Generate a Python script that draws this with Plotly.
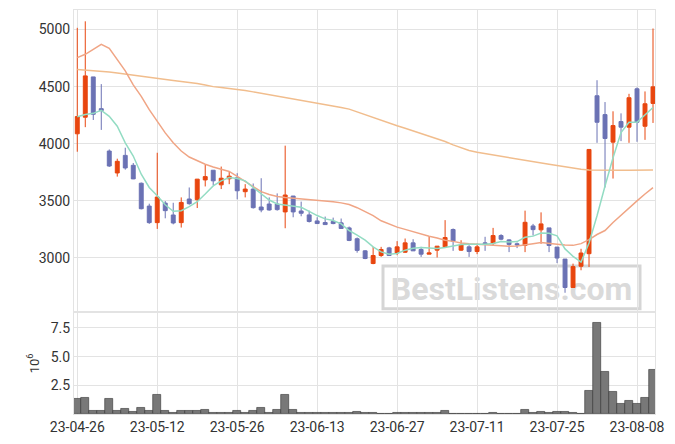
import plotly.graph_objects as go

dates = [
    "2023-04-26", "2023-04-27", "2023-04-28",
    "2023-05-02", "2023-05-03", "2023-05-04", "2023-05-08", "2023-05-09", "2023-05-10",
    "2023-05-11", "2023-05-12", "2023-05-15", "2023-05-16", "2023-05-17", "2023-05-18",
    "2023-05-19", "2023-05-22", "2023-05-23", "2023-05-24", "2023-05-25", "2023-05-26",
    "2023-05-30", "2023-05-31",
    "2023-06-01", "2023-06-02", "2023-06-05", "2023-06-07", "2023-06-08", "2023-06-09",
    "2023-06-12", "2023-06-13", "2023-06-14", "2023-06-15", "2023-06-16", "2023-06-19",
    "2023-06-20", "2023-06-21", "2023-06-22", "2023-06-23", "2023-06-26", "2023-06-27",
    "2023-06-28", "2023-06-29", "2023-06-30",
    "2023-07-03", "2023-07-04", "2023-07-05", "2023-07-06", "2023-07-07", "2023-07-10",
    "2023-07-11", "2023-07-12", "2023-07-13", "2023-07-14", "2023-07-17", "2023-07-18",
    "2023-07-19", "2023-07-20", "2023-07-21", "2023-07-24", "2023-07-25", "2023-07-26",
    "2023-07-27", "2023-07-28", "2023-07-31",
    "2023-08-01", "2023-08-02", "2023-08-03", "2023-08-04", "2023-08-07", "2023-08-08",
    "2023-08-09", "2023-08-10",
]

open_ = [4087, 4232, 4585, 4307, 3936, 3744, 3898, 3811, 3654, 3454,
         3309, 3480, 3376, 3309, 3516, 3510, 3683, 3768, 3640, 3693,
         3701, 3580, 3603, 3446, 3472, 3472, 3403, 3542, 3411, 3377,
         3324, 3310, 3319, 3307, 3263, 3168, 3062, 2951, 3021, 3088,
         3044, 3050, 3132, 3074, 3033, 3068, 3097, 3249, 3068, 3097,
         3056, 3132, 3126, 3196, 3158, 3124, 3109, 3280, 3246, 3263,
         3095, 2990, 2741, 2927, 3037, 4420, 4255, 4014, 4194, 4145,
         4481, 4153, 4353]
high = [5015, 5072, 4585, 4522, 3950, 3869, 3965, 3831, 3660, 3475,
        3921, 3498, 3483, 3530, 3617, 3690, 3817, 3770, 3800, 3756,
        3742, 3646, 3652, 3698, 3530, 3565, 3983, 3542, 3493, 3414,
        3356, 3362, 3353, 3345, 3275, 3179, 3068, 3097, 3097, 3097,
        3147, 3170, 3164, 3097, 3190, 3103, 3331, 3258, 3155, 3112,
        3126, 3185, 3263, 3208, 3164, 3135, 3414, 3298, 3399, 3263,
        3095, 2990, 2950, 3080, 3950, 4556, 4365, 4284, 4266, 4437,
        4493, 4458, 5009]
low = [3930, 4145, 4208, 4121, 3797, 3712, 3773, 3690, 3425, 3298,
       3254, 3347, 3294, 3266, 3466, 3437, 3626, 3637, 3603, 3646,
       3513, 3530, 3432, 3400, 3414, 3414, 3260, 3356, 3365, 3310,
       3298, 3292, 3295, 3255, 3147, 3046, 2989, 2945, 3009, 3018,
       3024, 3044, 3062, 3009, 3033, 3004, 3091, 3062, 3062, 3009,
       3033, 3062, 3106, 3155, 3051, 3086, 3051, 3196, 3124, 3051,
       2955, 2695, 2741, 2892, 2921, 4008, 3617, 3695, 4023, 4008,
       4017, 4034, 4182]
close = [4238, 4594, 4258, 4290, 3805, 3846, 3788, 3692, 3431, 3309,
         3533, 3414, 3306, 3486, 3475, 3690, 3712, 3675, 3698, 3716,
         3588, 3603, 3440, 3420, 3420, 3423, 3551, 3403, 3391, 3319,
         3301, 3292, 3301, 3258, 3153, 3066, 2995, 3021, 3074, 3021,
         3097, 3132, 3062, 3033, 3044, 3103, 3179, 3147, 3115, 3056,
         3097, 3123, 3196, 3164, 3118, 3115, 3312, 3248, 3298, 3109,
         2999, 2741, 2924, 3043, 3950, 4188, 4046, 4159, 4145, 4403,
         4188, 4350, 4498]

ma_short = [4237, 4255, 4266, 4292, 4240, 4153, 4008, 3892, 3733, 3617,
            3544, 3466, 3408, 3414, 3449, 3492, 3559, 3631, 3675, 3704,
            3696, 3675, 3617, 3559, 3507, 3472, 3463, 3458, 3443, 3408,
            3371, 3342, 3327, 3298, 3240, 3200, 3155, 3097, 3053, 3033,
            3039, 3068, 3085, 3091, 3088, 3082, 3091, 3103, 3117, 3120,
            3117, 3120, 3126, 3144, 3140, 3143, 3181, 3191, 3218, 3216,
            3193, 3079, 3014, 2963, 3131, 3369, 3630, 3877, 4098, 4188,
            4188, 4249, 4317]
ma_mid = [4754, 4783, 4826, 4870, 4835, 4739, 4638, 4516, 4414, 4298,
          4197, 4095, 4008, 3936, 3884, 3849, 3820, 3797, 3780, 3757,
          3715, 3670, 3620, 3580, 3555, 3538, 3530, 3524, 3520, 3515,
          3507, 3500, 3492, 3482, 3468, 3440, 3405, 3370, 3325, 3295,
          3270, 3250, 3230, 3205, 3190, 3175, 3155, 3145, 3130, 3124,
          3120, 3114, 3110, 3105, 3102, 3105, 3118, 3125, 3135, 3125,
          3120, 3113, 3110, 3125, 3160, 3205, 3240, 3310, 3375, 3440,
          3500, 3560, 3615]
ma_long = [4650, 4646, 4642, 4637, 4628, 4619, 4609, 4600, 4590, 4580,
           4570, 4562, 4554, 4546, 4538, 4528, 4514, 4500, 4493, 4486,
           4478, 4466, 4454, 4442, 4430, 4418, 4406, 4394, 4382, 4370,
           4359, 4345, 4332, 4318, 4303, 4278, 4252, 4225, 4202, 4180,
           4157, 4135, 4112, 4090, 4069, 4048, 4020, 3990, 3962, 3940,
           3925, 3913, 3900, 3890, 3876, 3863, 3850, 3840, 3830, 3820,
           3809, 3797, 3786, 3776, 3770, 3768, 3768, 3768, 3768, 3768,
           3769, 3770, 3770]

volume_m = [1.32, 1.41, 0.26, 0.26, 1.32, 0.26, 0.46, 0.17, 0.55, 0.26,
            1.67, 0.26, 0.12, 0.24, 0.24, 0.24, 0.34, 0.10, 0.10, 0.10,
            0.24, 0.10, 0.24, 0.52, 0.10, 0.34, 1.72, 0.34, 0.10, 0.10,
            0.10, 0.10, 0.10, 0.10, 0.10, 0.22, 0.10, 0.10, 0.03, 0.03,
            0.10, 0.10, 0.10, 0.10, 0.10, 0.10, 0.30, 0.03, 0.03, 0.03,
            0.03, 0.03, 0.10, 0.03, 0.03, 0.03, 0.40, 0.12, 0.20, 0.12,
            0.20, 0.20, 0.10, 0.03, 2.00, 7.96, 3.65, 1.93, 0.89, 1.15,
            0.89, 1.41, 3.82]

tick_dates = ["2023-04-26", "2023-05-12", "2023-05-26", "2023-06-13",
              "2023-06-27", "2023-07-11", "2023-07-25", "2023-08-08"]
tick_labels = ["23-04-26", "23-05-12", "23-05-26", "23-06-13",
               "23-06-27", "23-07-11", "23-07-25", "23-08-08"]
price_ticks = [3000, 3500, 4000, 4500, 5000]
vol_ticks = [2.5, 5.0, 7.5]

UP = "#e8460f"
DOWN = "#6b72b4"
GRID = "#e3e3e3"
FONT = "Roboto"

fig = go.Figure()
fig.add_trace(go.Candlestick(
    x=dates, open=open_, high=high, low=low, close=close,
    increasing=dict(line=dict(color=UP, width=1), fillcolor=UP),
    decreasing=dict(line=dict(color=DOWN, width=1), fillcolor=DOWN),
    xaxis="x", yaxis="y", showlegend=False, hoverinfo="skip",
))
fig.add_trace(go.Scatter(x=dates, y=ma_long, mode="lines",
                         line=dict(color="#f1bd8d", width=1.5),
                         xaxis="x", yaxis="y", showlegend=False, hoverinfo="skip"))
fig.add_trace(go.Scatter(x=dates, y=ma_mid, mode="lines",
                         line=dict(color="#f0a585", width=1.5),
                         xaxis="x", yaxis="y", showlegend=False, hoverinfo="skip"))
fig.add_trace(go.Scatter(x=dates, y=ma_short, mode="lines",
                         line=dict(color="#93dcc3", width=1.5),
                         xaxis="x", yaxis="y", showlegend=False, hoverinfo="skip"))
fig.add_trace(go.Bar(x=dates, y=volume_m,
                     marker=dict(color="#787878", line=dict(color="#333333", width=0.6)),
                     xaxis="x2", yaxis="y2", showlegend=False, hoverinfo="skip"))

xcommon = dict(type="category", range=[-0.41, 72.25], tickvals=tick_dates,
               ticktext=tick_labels, showgrid=True, gridcolor=GRID, gridwidth=1,
               showline=True, linecolor=GRID, mirror=True, zeroline=False,
               ticks="", tickfont=dict(family=FONT, size=14, color="#333"))

fig.update_layout(
    width=675, height=444,
    margin=dict(l=74, r=20, t=9, b=28),
    paper_bgcolor="white", plot_bgcolor="white",
    bargap=0,
    xaxis=dict(**xcommon, anchor="y", showticklabels=False, rangeslider=dict(visible=False)),
    xaxis2=dict(**xcommon, anchor="y2", matches="x"),
    yaxis=dict(domain=[0.256, 1.0], range=[2539, 5171], tickvals=price_ticks,
               showgrid=True, gridcolor=GRID, showline=True, linecolor=GRID,
               mirror=True, zeroline=False, ticks="",
               tickfont=dict(family=FONT, size=14, color="#333")),
    yaxis2=dict(domain=[0.0, 0.2506], range=[0, 8.82], tickvals=vol_ticks,
                tickformat=".1f", showgrid=True, gridcolor=GRID, showline=True,
                linecolor=GRID, mirror=True, zeroline=False, ticks="",
                tickfont=dict(family=FONT, size=14, color="#333"),
                title=dict(text="10<sup>6</sup>", font=dict(family=FONT, size=13, color="#333"),
                           standoff=8)),
    shapes=[dict(type="rect", xref="paper", yref="paper",
                 x0=(383 - 74) / 581, x1=(640 - 74) / 581,
                 y0=(416 - 310) / 407, y1=(416 - 267) / 407,
                 line=dict(color="#d5d5d5", width=3), fillcolor="rgba(255,255,255,0)",
                 layer="between",
                 label=dict(text="<b>BestListens.com</b>",
                            font=dict(family=FONT, size=32, color="#dadada"),
                            textposition="middle center"))],
)

fig.write_html("out.html", config={"displayModeBar": False},
               post_script="document.body.style.margin='0';")
